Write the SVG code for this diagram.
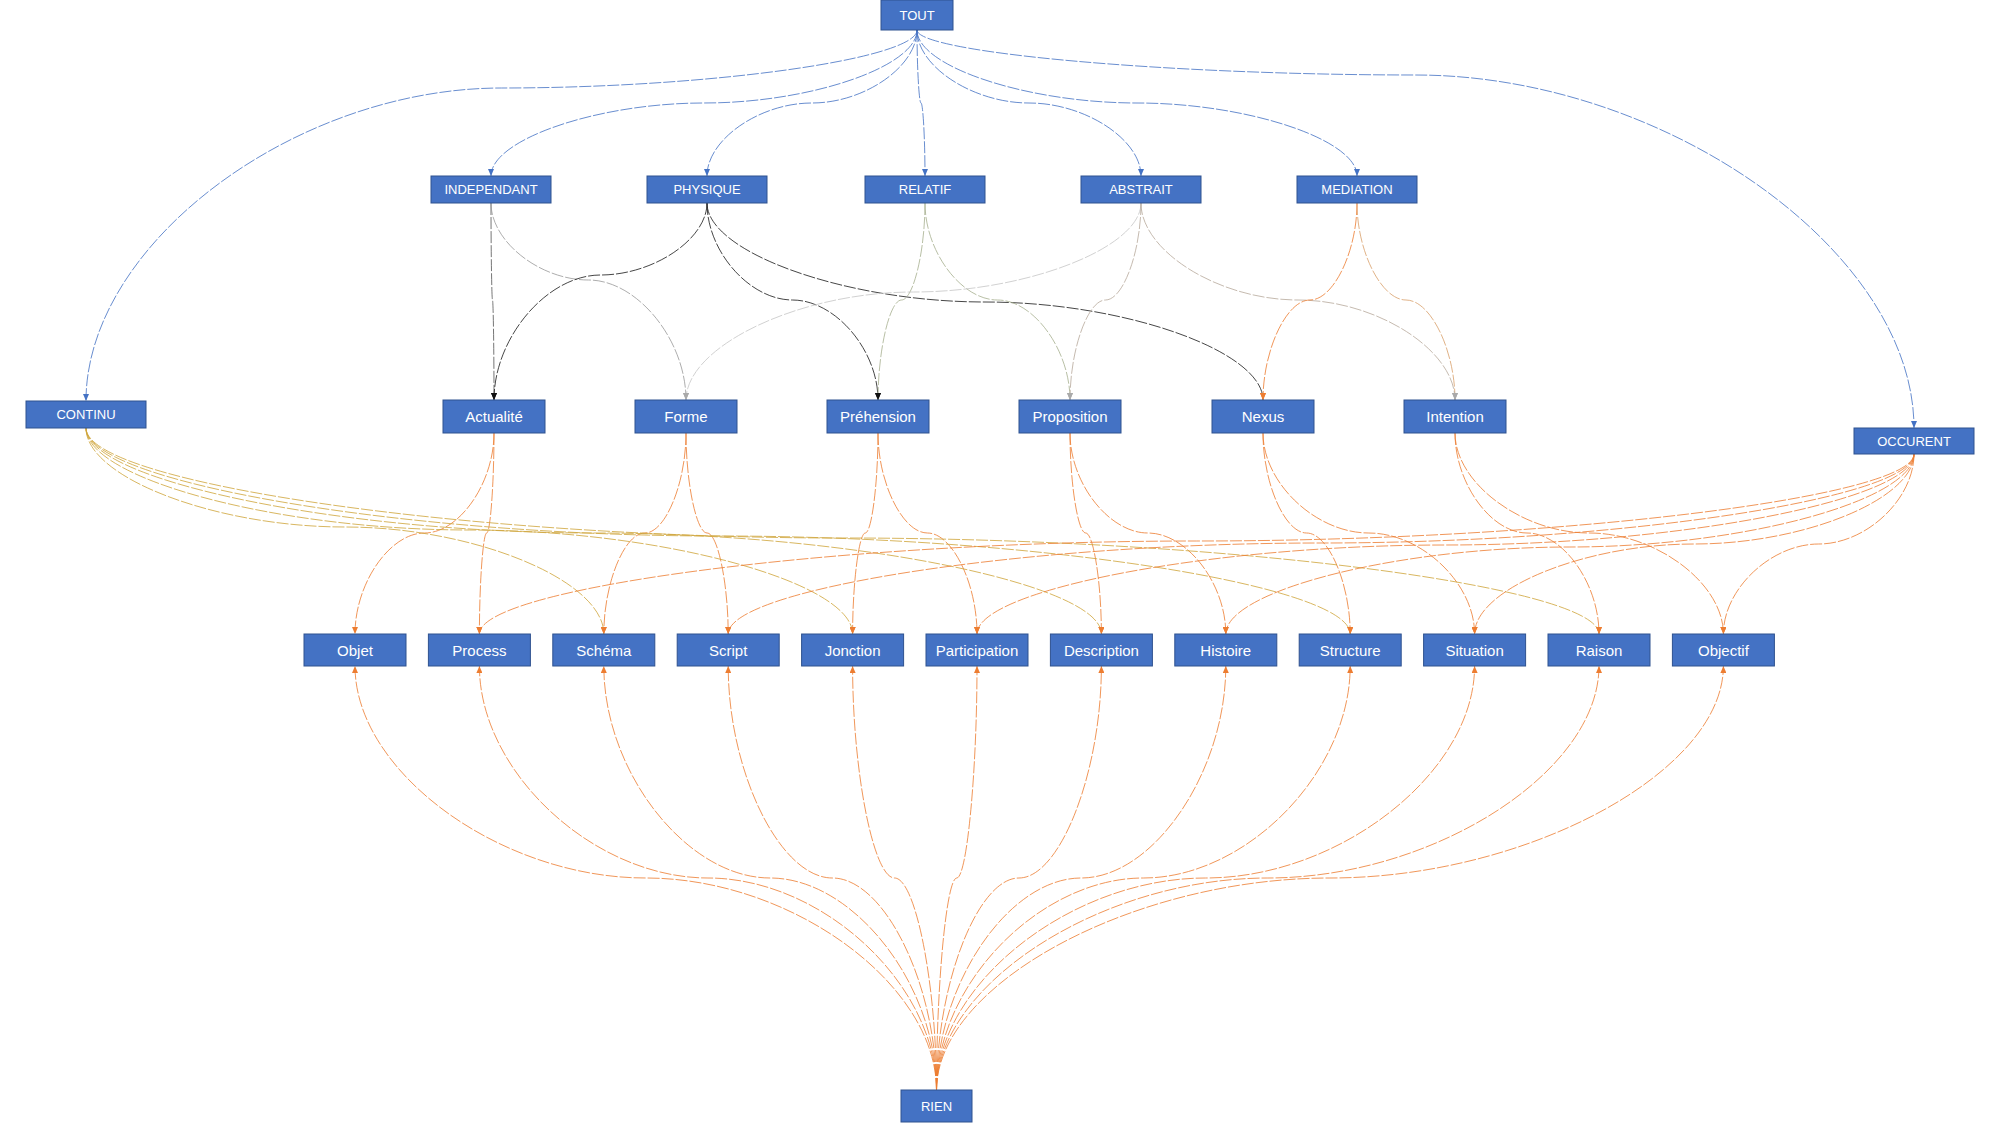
<svg xmlns="http://www.w3.org/2000/svg" width="2001" height="1125" viewBox="0 0 2001 1125">
<style>
.n rect{fill:#4472C4;stroke:#2F528F;stroke-width:1}
.n text{fill:#fff;font-family:"Liberation Sans",Arial,sans-serif;text-anchor:middle;dominant-baseline:central}
.u text{font-size:13px}
.m text{font-size:15px}
#edges path{fill:none;stroke-width:0.9;stroke-dasharray:12 2;stroke-opacity:0.9}
.b{stroke:#4472C4}
.k{stroke:#1a1a1a}
.dg{stroke:#555}
.g{stroke:#9a9a9a}
.lg{stroke:#c6c6c6}
.gn{stroke:#a7b08f}
.tn{stroke:#b7aa9c}
.o{stroke:#ED7D31}
.t{stroke:#D9A06A}
.y{stroke:#CFA53A}
</style>
<defs>
<marker id="ab" markerUnits="userSpaceOnUse" markerWidth="7" markerHeight="6" refX="7" refY="3" orient="auto"><path d="M0,0 L7,3 L0,6 z" fill="#4472C4"/></marker>
<marker id="ak" markerUnits="userSpaceOnUse" markerWidth="7" markerHeight="6" refX="7" refY="3" orient="auto"><path d="M0,0 L7,3 L0,6 z" fill="#111"/></marker>
<marker id="ag" markerUnits="userSpaceOnUse" markerWidth="7" markerHeight="6" refX="7" refY="3" orient="auto"><path d="M0,0 L7,3 L0,6 z" fill="#aaa"/></marker>
<marker id="ao" markerUnits="userSpaceOnUse" markerWidth="7" markerHeight="6" refX="7" refY="3" orient="auto"><path d="M0,0 L7,3 L0,6 z" fill="#ED7D31"/></marker>
</defs>

<g id="edges">
<path class="b" marker-end="url(#ab)" d="M917 30 C917 59 709 88 501.5 88 C294 88 86 244.5 86 401"/>
<path class="b" marker-end="url(#ab)" d="M917 30 C917 66.5 810.5 103 704 103 C597.5 103 491 139.5 491 176"/>
<path class="b" marker-end="url(#ab)" d="M917 30 C917 66.5 864.5 103 812 103 C759.5 103 707 139.5 707 176"/>
<path class="b" marker-end="url(#ab)" d="M917 30 C917 66.5 919 103 921 103 C923 103 925 139.5 925 176"/>
<path class="b" marker-end="url(#ab)" d="M917 30 C917 66.5 973 103 1029 103 C1085 103 1141 139.5 1141 176"/>
<path class="b" marker-end="url(#ab)" d="M917 30 C917 66.5 1027 103 1137 103 C1247 103 1357 139.5 1357 176"/>
<path class="b" marker-end="url(#ab)" d="M917 30 C917 52.5 1166.25 75 1415.5 75 C1664.75 75 1914 251.5 1914 428"/>
<path class="dg" marker-end="url(#ak)" d="M491 203 C491 251.5 491.75 300 492.5 300 C493.25 300 494 350 494 400"/>
<path class="g" marker-end="url(#ag)" d="M491 203 C491 241.5 539.75 280 588.5 280 C637.25 280 686 340 686 400"/>
<path class="k" marker-end="url(#ak)" d="M707 203 C707 239 653.75 275 600.5 275 C547.25 275 494 337.5 494 400"/>
<path class="k" marker-end="url(#ak)" d="M707 203 C707 251.5 749.75 300 792.5 300 C835.25 300 878 350 878 400"/>
<path class="k" marker-end="url(#ao)" d="M707 203 C707 252.5 846 302 985 302 C1124 302 1263 351 1263 400"/>
<path class="gn" marker-end="url(#ak)" d="M925 203 C925 251.5 913.25 300 901.5 300 C889.75 300 878 350 878 400"/>
<path class="gn" marker-end="url(#ag)" d="M925 203 C925 251.5 961.25 300 997.5 300 C1033.75 300 1070 350 1070 400"/>
<path class="lg" marker-end="url(#ag)" d="M1141 203 C1141 247.5 1027.25 292 913.5 292 C799.75 292 686 346 686 400"/>
<path class="tn" marker-end="url(#ag)" d="M1141 203 C1141 251.5 1123.25 300 1105.5 300 C1087.75 300 1070 350 1070 400"/>
<path class="t" marker-end="url(#ag)" d="M1357 203 C1357 251.5 1381.5 300 1406 300 C1430.5 300 1455 350 1455 400"/>
<path class="tn" marker-end="url(#ag)" d="M1141 203 C1141 251.5 1219.5 300 1298 300 C1376.5 300 1455 350 1455 400"/>
<path class="o" marker-end="url(#ao)" d="M1357 203 C1357 251.5 1333.5 300 1310 300 C1286.5 300 1263 350 1263 400"/>
<path class="o" marker-end="url(#ao)" d="M494 433 C494 483 459.25 533 424.5 533 C389.75 533 355 583.5 355 634"/>
<path class="o" marker-end="url(#ao)" d="M494 433 C494 483 490.35 533 486.7 533 C483.05 533 479.4 583.5 479.4 634"/>
<path class="o" marker-end="url(#ao)" d="M686 433 C686 483 665.45 533 644.9 533 C624.35 533 603.8 583.5 603.8 634"/>
<path class="o" marker-end="url(#ao)" d="M686 433 C686 483 696.55 533 707.1 533 C717.65 533 728.2 583.5 728.2 634"/>
<path class="o" marker-end="url(#ao)" d="M878 433 C878 483 871.65 533 865.3 533 C858.95 533 852.6 583.5 852.6 634"/>
<path class="o" marker-end="url(#ao)" d="M878 433 C878 483 902.75 533 927.5 533 C952.25 533 977 583.5 977 634"/>
<path class="o" marker-end="url(#ao)" d="M1070 433 C1070 483 1077.85 533 1085.7 533 C1093.55 533 1101.4 583.5 1101.4 634"/>
<path class="o" marker-end="url(#ao)" d="M1070 433 C1070 483 1108.95 533 1147.9 533 C1186.85 533 1225.8 583.5 1225.8 634"/>
<path class="o" marker-end="url(#ao)" d="M1263 433 C1263 483 1284.8 533 1306.6 533 C1328.4 533 1350.2 583.5 1350.2 634"/>
<path class="o" marker-end="url(#ao)" d="M1263 433 C1263 483 1315.9 533 1368.8 533 C1421.7 533 1474.6 583.5 1474.6 634"/>
<path class="o" marker-end="url(#ao)" d="M1455 433 C1455 483 1491 533 1527 533 C1563 533 1599 583.5 1599 634"/>
<path class="o" marker-end="url(#ao)" d="M1455 433 C1455 483 1522.1 533 1589.2 533 C1656.3 533 1723.4 583.5 1723.4 634"/>
<path class="y" marker-end="url(#ao)" d="M86 428 C86 477.5 215.45 527 344.9 527 C474.35 527 603.8 580.5 603.8 634"/>
<path class="y" marker-end="url(#ao)" d="M86 428 C86 479 277.65 530 469.3 530 C660.95 530 852.6 582 852.6 634"/>
<path class="y" marker-end="url(#ao)" d="M86 428 C86 480.5 339.85 533 593.7 533 C847.55 533 1101.4 583.5 1101.4 634"/>
<path class="y" marker-end="url(#ao)" d="M86 428 C86 482 402.05 536 718.1 536 C1034.15 536 1350.2 585 1350.2 634"/>
<path class="y" marker-end="url(#ao)" d="M86 428 C86 483 464.25 538 842.5 538 C1220.75 538 1599 586 1599 634"/>
<path class="o" marker-end="url(#ao)" d="M1914 454 C1914 497.5 1555.35 541 1196.7 541 C838.05 541 479.4 587.5 479.4 634"/>
<path class="o" marker-end="url(#ao)" d="M1914 454 C1914 498.5 1617.55 543 1321.1 543 C1024.65 543 728.2 588.5 728.2 634"/>
<path class="o" marker-end="url(#ao)" d="M1914 454 C1914 499.5 1679.75 545 1445.5 545 C1211.25 545 977 589.5 977 634"/>
<path class="o" marker-end="url(#ao)" d="M1914 454 C1914 500.5 1741.95 547 1569.9 547 C1397.85 547 1225.8 590.5 1225.8 634"/>
<path class="o" marker-end="url(#ao)" d="M1914 454 C1914 499 1804.15 544 1694.3 544 C1584.45 544 1474.6 589 1474.6 634"/>
<path class="o" marker-end="url(#ao)" d="M1914 454 C1914 499 1866.35 544 1818.7 544 C1771.05 544 1723.4 589 1723.4 634"/>
<path class="o" marker-end="url(#ao)" d="M936.5 1090 C936.5 984 791.125 878 645.75 878 C500.375 878 355 772 355 666"/>
<path class="o" marker-end="url(#ao)" d="M936.5 1090 C936.5 984 822.225 878 707.95 878 C593.675 878 479.4 772 479.4 666"/>
<path class="o" marker-end="url(#ao)" d="M936.5 1090 C936.5 984 853.325 878 770.15 878 C686.975 878 603.8 772 603.8 666"/>
<path class="o" marker-end="url(#ao)" d="M936.5 1090 C936.5 984 884.425 878 832.35 878 C780.275 878 728.2 772 728.2 666"/>
<path class="o" marker-end="url(#ao)" d="M936.5 1090 C936.5 984 915.525 878 894.55 878 C873.575 878 852.6 772 852.6 666"/>
<path class="o" marker-end="url(#ao)" d="M936.5 1090 C936.5 984 946.625 878 956.75 878 C966.875 878 977 772 977 666"/>
<path class="o" marker-end="url(#ao)" d="M936.5 1090 C936.5 984 977.725 878 1018.95 878 C1060.175 878 1101.4 772 1101.4 666"/>
<path class="o" marker-end="url(#ao)" d="M936.5 1090 C936.5 984 1008.825 878 1081.15 878 C1153.475 878 1225.8 772 1225.8 666"/>
<path class="o" marker-end="url(#ao)" d="M936.5 1090 C936.5 984 1039.925 878 1143.35 878 C1246.775 878 1350.2 772 1350.2 666"/>
<path class="o" marker-end="url(#ao)" d="M936.5 1090 C936.5 984 1071.025 878 1205.55 878 C1340.075 878 1474.6 772 1474.6 666"/>
<path class="o" marker-end="url(#ao)" d="M936.5 1090 C936.5 984 1102.125 878 1267.75 878 C1433.375 878 1599 772 1599 666"/>
<path class="o" marker-end="url(#ao)" d="M936.5 1090 C936.5 984 1133.225 878 1329.95 878 C1526.675 878 1723.4 772 1723.4 666"/>
</g>

<g id="tout" class="n u"><rect x="881" y="0" width="72" height="30"/><text x="917" y="15">TOUT</text></g>
<g id="independant" class="n u"><rect x="431" y="176" width="120" height="27"/><text x="491" y="189.5">INDEPENDANT</text></g>
<g id="physique" class="n u"><rect x="647" y="176" width="120" height="27"/><text x="707" y="189.5">PHYSIQUE</text></g>
<g id="relatif" class="n u"><rect x="865" y="176" width="120" height="27"/><text x="925" y="189.5">RELATIF</text></g>
<g id="abstrait" class="n u"><rect x="1081" y="176" width="120" height="27"/><text x="1141" y="189.5">ABSTRAIT</text></g>
<g id="mediation" class="n u"><rect x="1297" y="176" width="120" height="27"/><text x="1357" y="189.5">MEDIATION</text></g>
<g id="continu" class="n u"><rect x="26" y="401" width="120" height="27"/><text x="86" y="414.5">CONTINU</text></g>
<g id="occurent" class="n u"><rect x="1854" y="428" width="120" height="26"/><text x="1914" y="441">OCCURENT</text></g>

<g id="actualite" class="n m"><rect x="443" y="400" width="102" height="33"/><text x="494" y="416.5">Actualité</text></g>
<g id="forme" class="n m"><rect x="635" y="400" width="102" height="33"/><text x="686" y="416.5">Forme</text></g>
<g id="prehension" class="n m"><rect x="827" y="400" width="102" height="33"/><text x="878" y="416.5">Préhension</text></g>
<g id="proposition" class="n m"><rect x="1019" y="400" width="102" height="33"/><text x="1070" y="416.5">Proposition</text></g>
<g id="nexus" class="n m"><rect x="1212" y="400" width="102" height="33"/><text x="1263" y="416.5">Nexus</text></g>
<g id="intention" class="n m"><rect x="1404" y="400" width="102" height="33"/><text x="1455" y="416.5">Intention</text></g>

<g id="objet" class="n m"><rect x="304" y="634" width="102" height="32"/><text x="355" y="650">Objet</text></g>
<g id="process" class="n m"><rect x="428.4" y="634" width="102" height="32"/><text x="479.4" y="650">Process</text></g>
<g id="schema" class="n m"><rect x="552.8" y="634" width="102" height="32"/><text x="603.8" y="650">Schéma</text></g>
<g id="script" class="n m"><rect x="677.2" y="634" width="102" height="32"/><text x="728.2" y="650">Script</text></g>
<g id="jonction" class="n m"><rect x="801.6" y="634" width="102" height="32"/><text x="852.6" y="650">Jonction</text></g>
<g id="participation" class="n m"><rect x="926" y="634" width="102" height="32"/><text x="977" y="650">Participation</text></g>
<g id="description" class="n m"><rect x="1050.4" y="634" width="102" height="32"/><text x="1101.4" y="650">Description</text></g>
<g id="histoire" class="n m"><rect x="1174.8" y="634" width="102" height="32"/><text x="1225.8" y="650">Histoire</text></g>
<g id="structure" class="n m"><rect x="1299.2" y="634" width="102" height="32"/><text x="1350.2" y="650">Structure</text></g>
<g id="situation" class="n m"><rect x="1423.6" y="634" width="102" height="32"/><text x="1474.6" y="650">Situation</text></g>
<g id="raison" class="n m"><rect x="1548" y="634" width="102" height="32"/><text x="1599" y="650">Raison</text></g>
<g id="objectif" class="n m"><rect x="1672.4" y="634" width="102" height="32"/><text x="1723.4" y="650">Objectif</text></g>

<g id="rien" class="n u"><rect x="901" y="1090" width="71" height="32"/><text x="936.5" y="1106">RIEN</text></g>
</svg>
